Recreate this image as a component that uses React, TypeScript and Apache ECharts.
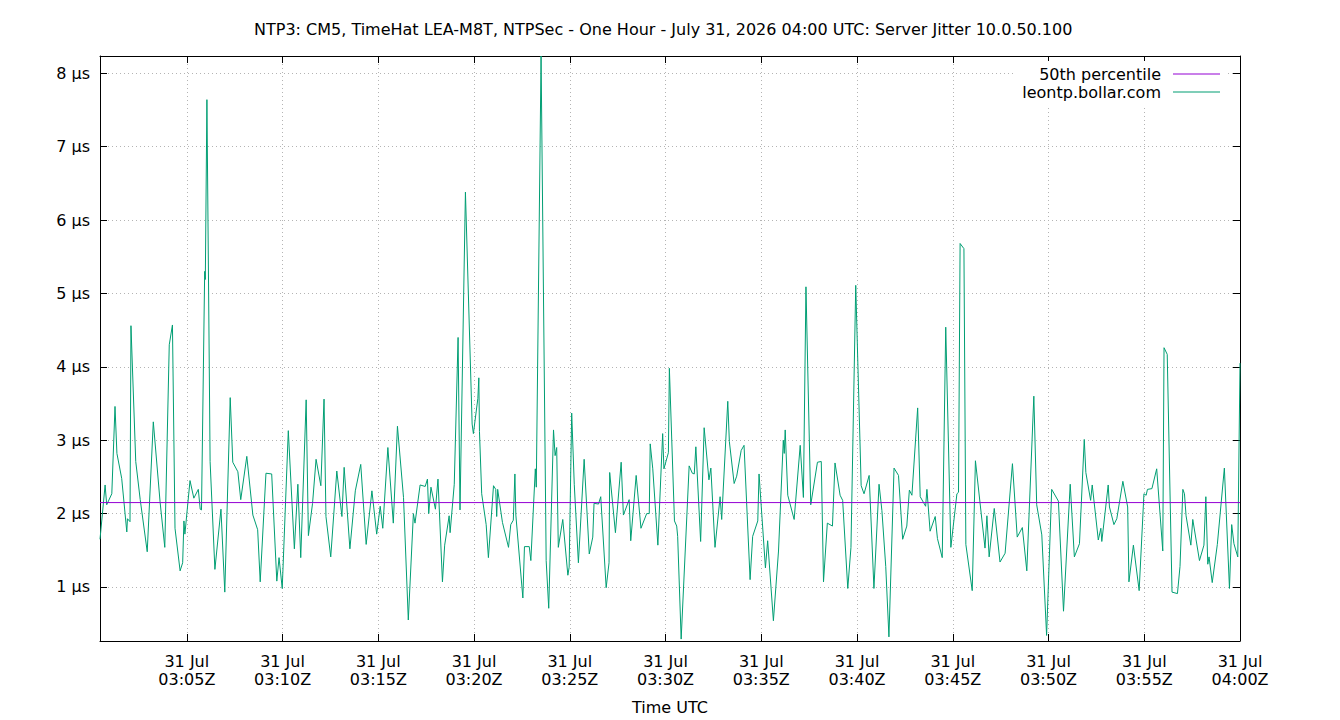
import React, { useEffect, useRef } from "react";
import * as echarts from "echarts";

// Sample times, in seconds after 03:00:00 UTC on 31 Jul 2026
const sampleSeconds: number[] = [
  28, 44, 49, 65, 75, 81, 96, 112, 114, 122, 125, 140, 154, 176, 195, 216, 231, 245, 255, 263,
  279, 287, 291, 294, 310, 322, 336, 342, 346, 356, 358, 363, 373, 388, 407, 419, 436, 444, 460, 469,
  488, 507, 522, 530, 548, 566, 582, 589, 599, 618,
  637, 648, 657, 674, 681, 694, 705, 720, 730, 736, 751, 770, 786, 793, 811, 828, 845, 862, 880, 895,
  906, 914, 930, 947, 960, 979, 994, 1010, 1015, 1031, 1047, 1054, 1058, 1065, 1079, 1087, 1101, 1108,
  1122, 1125, 1138, 1150, 1156, 1173, 1194, 1198, 1212, 1215, 1217,
  1224, 1238, 1245, 1261, 1268, 1271, 1274, 1289, 1308, 1315, 1323, 1328, 1331, 1353, 1358, 1373, 1378,
  1392, 1395, 1410, 1426, 1434, 1449, 1454, 1459, 1464, 1478, 1494, 1498, 1506, 1514, 1527, 1545, 1561,
  1572, 1576, 1590, 1597, 1614, 1623, 1625, 1643, 1661, 1668, 1686, 1691, 1708, 1723, 1741, 1749, 1752,
  1760, 1776, 1791, 1795, 1809, 1812,
  1828, 1835, 1838, 1849, 1874, 1884, 1890, 1895, 1910, 1921, 1936, 1942, 1955, 1971, 1976, 1995, 2000,
  2015, 2023, 2037, 2046, 2065, 2073, 2089, 2093, 2113, 2120, 2138, 2154, 2169, 2172, 2175, 2183, 2203,
  2222, 2232, 2240, 2255, 2276, 2288, 2295, 2307, 2323, 2331, 2347, 2355, 2371, 2381, 2396,
  2413, 2422, 2438, 2453, 2469, 2478, 2490, 2500, 2516, 2530, 2543, 2556, 2564, 2572, 2590, 2598, 2615,
  2619, 2629, 2645, 2652, 2667, 2678, 2694, 2713, 2718, 2723, 2735, 2741, 2761, 2771, 2801, 2807, 2814,
  2830, 2848, 2864, 2887, 2902, 2918, 2932, 2954, 2963, 2979, 2994,
  3010, 3031, 3047, 3068, 3081, 3097, 3112, 3117, 3132, 3137, 3156, 3164, 3167, 3187, 3191, 3205, 3214,
  3233, 3248, 3252, 3266, 3284, 3299, 3306, 3310, 3324, 3339, 3358, 3362, 3372, 3387, 3404, 3412, 3421,
  3426, 3431, 3446, 3452, 3473, 3487, 3493, 3499, 3503, 3513, 3529, 3551, 3567, 3574, 3581, 3593, 3600,
];

// Server jitter in microseconds at each sample time
const jitterUs: number[] = [
  1.65, 2.39, 2.12, 2.27, 3.46, 2.82, 2.48, 1.75, 1.93, 1.89, 4.56, 2.71, 2.19, 1.48, 3.25, 2.17, 1.54, 4.3, 4.57, 1.8,
  1.22, 1.33, 1.9, 1.72, 2.45, 2.21, 2.33, 2.06, 2.05, 5.3, 5.19, 7.64, 2.71, 1.24, 2.06, 0.93, 3.58, 2.7, 2.57, 2.19,
  2.78, 1.98, 1.78, 1.07, 2.55, 2.54, 1.08, 1.4, 0.98, 3.13,
  1.52, 2.4, 1.4, 3.55, 1.7, 2.14, 2.74, 2.38, 3.56, 1.96, 1.41, 2.58, 1.96, 2.63, 1.52, 2.31, 2.67, 1.58, 2.31, 1.72,
  2.1, 1.8, 2.9, 1.87, 3.19, 2.22, 0.55, 2.0, 1.87, 2.39, 2.37, 2.47, 2.0, 2.36, 2.06, 2.47, 1.07, 1.57,
  1.97, 1.74, 2.4, 4.4, 2.05, 6.38, 3.22, 3.09, 3.57, 3.85, 3.12,
  2.27, 1.85, 1.4, 2.38, 2.33, 1.96, 2.33, 1.88, 1.54, 1.85, 1.91, 2.54, 1.98, 0.85, 1.55, 1.55, 1.36,
  2.61, 2.36, 8.235, 1.36, 0.71, 3.14, 2.79, 2.9, 1.54, 1.92, 1.16, 1.27, 3.37, 2.4, 1.33, 2.74, 1.45,
  1.68, 2.14, 2.13, 2.23, 0.99, 1.33, 2.56, 1.74, 2.7, 1.98, 2.19, 1.63, 2.52, 1.8, 2.0, 2.0, 2.95,
  2.61, 1.57, 3.09, 2.61, 2.83, 3.98,
  1.9, 1.83, 1.69, 0.29, 2.65, 2.55, 2.54, 2.91, 1.62, 3.17, 2.46, 2.62, 1.54, 2.23, 1.92, 3.53, 2.98,
  2.41, 2.51, 2.86, 2.93, 1.1, 1.69, 1.9, 2.54, 1.26, 1.63, 0.54, 1.49, 3.0, 2.82, 3.14, 2.25, 1.92,
  2.93, 2.22, 5.09, 2.12, 2.7, 2.71, 1.07, 1.87, 1.83, 2.69, 2.25, 2.18, 0.98, 1.54, 5.11,
  2.38, 2.27, 2.52, 0.98, 2.4, 2.04, 1.28, 0.32, 2.62, 2.52, 1.65, 1.83, 2.32, 2.25, 3.44, 2.23, 2.1,
  2.33, 1.76, 1.96, 1.66, 1.4, 4.54, 1.54, 2.27, 2.29, 5.68, 5.61, 1.58, 0.95, 2.72, 1.53, 1.97, 1.41,
  2.07, 1.34, 1.46, 2.68, 1.68, 1.81, 1.22, 3.6, 2.12, 1.71, 0.34,
  2.33, 2.17, 0.67, 2.4, 1.41, 1.59, 3.01, 2.56, 2.18, 2.39, 1.64, 1.8, 1.62, 2.39, 2.09, 1.85, 1.93,
  2.44, 2.09, 1.07, 1.57, 0.95, 2.27, 2.25, 2.33, 2.34, 2.61, 1.49, 4.26, 4.17, 0.93, 0.91, 1.28, 2.33,
  2.27, 1.97, 1.57, 1.92, 1.36, 1.57, 2.23, 1.31, 1.41, 1.06, 1.58, 2.62, 0.98, 1.85, 1.59, 1.41, 4.05,
];

// 50th percentile of the jitter over the hour
const medianUs = 2.15;

// Axis extents and tick positions
const timeStart = 28;
const timeEnd = 3600;
const timeTicks: number[] = [300, 600, 900, 1200, 1500, 1800, 2100, 2400, 2700, 3000, 3300, 3600];
const jitterMin = 0.264;
const jitterMax = 8.235;
const jitterTicks: number[] = [1, 2, 3, 4, 5, 6, 7, 8];
const dayLabel = "31 Jul";

const FONT = "DejaVu Sans";
const FS = 16;
const GREEN = "#009e73";
const VIOLET = "#9400d3";

const pad2 = (n: number) => (n < 10 ? "0" + n : String(n));
const clockLabel = (sec: number) => {
  const h = 3 + Math.floor(sec / 3600);
  const m = Math.floor((sec % 3600) / 60);
  return `${dayLabel}\n${pad2(h)}:${pad2(m)}Z`;
};

export default function App() {
  const ref = useRef<HTMLDivElement>(null);

  useEffect(() => {
    if (!ref.current) return;
    const chart = echarts.init(ref.current, null, { renderer: "svg" });

    const n = Math.min(sampleSeconds.length, jitterUs.length);
    const jitterData: [number, number][] = [];
    for (let i = 0; i < n; i++) jitterData.push([sampleSeconds[i], jitterUs[i]]);

    const gridLine = { show: true, lineStyle: { color: "#b4b4b4", width: 1, type: [1, 3] as any } };
    const frameLine = { show: true, onZero: false, lineStyle: { color: "#000", width: 1 } };
    const tick = (values: number[]) => ({
      show: true,
      inside: true,
      length: 7,
      customValues: values,
      lineStyle: { color: "#000" },
    });

    chart.setOption({
      animation: false,
      backgroundColor: "#ffffff",
      textStyle: { fontFamily: FONT },
      title: {
        text: "NTP3: CM5, TimeHat LEA-M8T, NTPSec - One Hour - July 31, 2026 04:00 UTC: Server Jitter 10.0.50.100",
        left: 249,
        top: 16,
        textStyle: { fontFamily: FONT, fontSize: FS, fontWeight: "normal", color: "#000" },
      },
      legend: {
        data: ["50th percentile", "leontp.bollar.com"],
        orient: "vertical",
        right: 112,
        top: 61,
        align: "right",
        icon: "rect",
        itemWidth: 47,
        itemHeight: 1,
        itemGap: 0,
        padding: [4, 8, 4, 8],
        backgroundColor: "#ffffff",
        textStyle: { fontFamily: FONT, fontSize: FS, color: "#000", lineHeight: 18, padding: [0, 7, 0, 0] },
      },
      grid: { left: 100, right: 100, top: 56, bottom: 79 },
      xAxis: [
        {
          type: "value",
          min: timeStart,
          max: timeEnd,
          name: "Time UTC",
          nameLocation: "middle",
          nameGap: 58,
          nameTextStyle: { fontFamily: FONT, fontSize: FS, color: "#000" },
          axisLine: frameLine,
          axisTick: tick(timeTicks),
          axisLabel: {
            customValues: timeTicks,
            formatter: (v: number) => clockLabel(v),
            fontFamily: FONT,
            fontSize: FS,
            color: "#000",
            lineHeight: 18,
            margin: 11,
          },
          splitLine: gridLine,
        },
        {
          type: "value",
          position: "top",
          min: timeStart,
          max: timeEnd,
          axisLine: frameLine,
          axisTick: tick(timeTicks),
          axisLabel: { show: false },
          splitLine: { show: false },
        },
      ],
      yAxis: [
        {
          type: "value",
          min: jitterMin,
          max: jitterMax,
          axisLine: frameLine,
          axisTick: tick(jitterTicks),
          axisLabel: {
            customValues: jitterTicks,
            formatter: (v: number) => `${v} µs`,
            fontFamily: FONT,
            fontSize: FS,
            color: "#000",
            margin: 10,
          },
          splitLine: gridLine,
        },
        {
          type: "value",
          position: "right",
          min: jitterMin,
          max: jitterMax,
          axisLine: frameLine,
          axisTick: tick(jitterTicks),
          axisLabel: { show: false },
          splitLine: { show: false },
        },
      ],
      series: [
        {
          name: "leontp.bollar.com",
          type: "line",
          data: jitterData,
          showSymbol: false,
          symbol: "none",
          lineStyle: { color: GREEN, width: 1 },
          itemStyle: { color: GREEN },
          z: 2,
        },
        {
          name: "50th percentile",
          type: "line",
          data: [
            [timeStart, medianUs],
            [timeEnd, medianUs],
          ],
          showSymbol: false,
          symbol: "none",
          lineStyle: { color: VIOLET, width: 1 },
          itemStyle: { color: VIOLET },
          z: 3,
        },
      ],
    });

    return () => chart.dispose();
  }, []);

  return <div ref={ref} style={{ position: "fixed", left: 0, top: 0, width: 1340, height: 720 }} />;
}
